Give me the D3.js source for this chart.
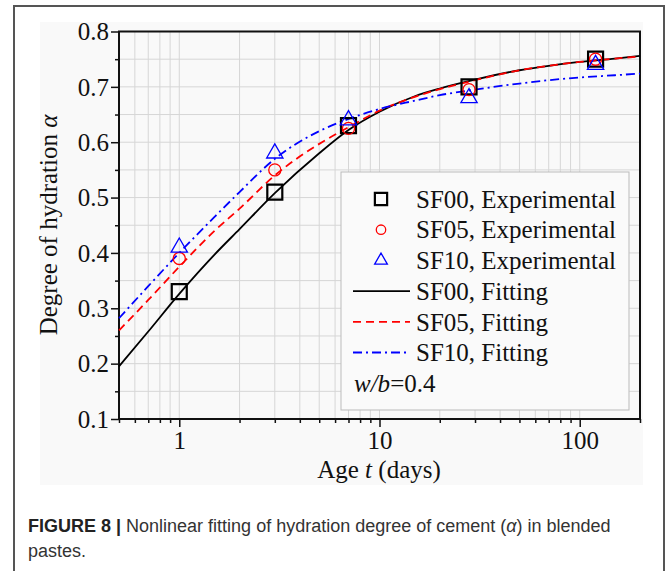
<!DOCTYPE html>
<html>
<head>
<meta charset="utf-8">
<script src="https://cdn.jsdelivr.net/npm/d3@7"></script>
<style>
  body { margin: 0; background: #fff; }
  svg text { font-family: "Liberation Serif", "Times New Roman", serif; fill: #111; }
  .caption text { font-family: "Liberation Sans Narrow", "Liberation Sans", Arial, sans-serif; fill: #333; }
</style>
</head>
<body>
<script>
// measured ages (days)
var ages = [1, 3, 7, 28, 120];
var sf00Exp = [0.33, 0.51, 0.63, 0.70, 0.75];
var sf05Exp = [0.39, 0.55, 0.625, 0.695, 0.75];
var sf10Exp = [0.41, 0.58, 0.64, 0.68, 0.74];

// fitted curves
var fitAges = [0.5, 0.7, 1, 1.5, 2, 3, 5, 7, 10, 15, 20, 30, 50, 70, 100, 150, 200];
var sf00Fit = [0.195, 0.258, 0.326, 0.397, 0.443, 0.508, 0.58, 0.622, 0.655, 0.683, 0.697, 0.713, 0.73, 0.738, 0.745, 0.751, 0.756];
var sf05Fit = [0.26, 0.315, 0.375, 0.44, 0.48, 0.54, 0.597, 0.627, 0.657, 0.682, 0.696, 0.712, 0.73, 0.738, 0.745, 0.751, 0.755];
var sf10Fit = [0.282, 0.34, 0.40, 0.465, 0.51, 0.57, 0.62, 0.642, 0.66, 0.675, 0.685, 0.695, 0.706, 0.712, 0.717, 0.721, 0.724];

var yTicks = [0.1, 0.2, 0.3, 0.4, 0.5, 0.6, 0.7, 0.8];
var xTickLabels = [1, 10, 100];

var width = 670, height = 571;
var svg = d3.select("body").append("svg")
    .attr("width", width)
    .attr("height", height);

// outer figure frame + light panel
svg.append("rect").attr("x", 14).attr("y", 6).attr("width", 650).attr("height", 600)
    .attr("fill", "#fff").attr("stroke", "#555").attr("stroke-width", 2);
svg.append("rect").attr("x", 40).attr("y", 22).attr("width", 603).attr("height", 463)
    .attr("fill", "#f9f9f9");

var x = d3.scaleLog().domain([0.5, 200]).range([119, 640]);
var y = d3.scaleLinear().domain([0.1, 0.8]).range([419, 31.5]);

var g = svg.append("g");

// minor values for grid + ticks
var xMinor = [];
[0.1, 1, 10, 100].forEach(function(d){
    for (var i = 1; i < 10; i++) {
        var v = d * i;
        if (v >= 0.5 && v <= 200) xMinor.push(v);
    }
});
var yMinor = d3.range(0.1, 0.801, 0.05);

// grid lines
g.selectAll(".vgrid").data(xMinor).enter().append("line")
    .attr("x1", function(d){ return x(d); }).attr("x2", function(d){ return x(d); })
    .attr("y1", y(0.1)).attr("y2", y(0.8))
    .attr("stroke", "#d6d6d6").attr("stroke-width", 1);
g.selectAll(".hgrid").data(yMinor).enter().append("line")
    .attr("x1", x(0.5)).attr("x2", x(200))
    .attr("y1", function(d){ return y(d); }).attr("y2", function(d){ return y(d); })
    .attr("stroke", "#d6d6d6").attr("stroke-width", 1);

// axes
var xAxis = d3.axisBottom(x)
    .tickValues(xMinor)
    .tickSize(4)
    .tickFormat(function(d){ return xTickLabels.indexOf(d) >= 0 ? d : ""; });
var xg = g.append("g").attr("transform", "translate(0," + y(0.1) + ")").call(xAxis);
xg.selectAll(".tick line").filter(function(d){ return xTickLabels.indexOf(d) >= 0; }).attr("y2", 8);

var yAxis = d3.axisLeft(y)
    .tickValues(yMinor)
    .tickSize(4)
    .tickFormat(function(d){
        var r = Math.round(d * 100) / 100;
        return (Math.round(r * 10) === r * 10) ? d3.format(".1f")(r) : "";
    });
var yg = g.append("g").attr("transform", "translate(" + x(0.5) + ",0)").call(yAxis);
yg.selectAll(".tick line").filter(function(d){ return Math.abs(d * 10 - Math.round(d * 10)) < 1e-6; }).attr("x2", -8);

[xg, yg].forEach(function(a){
    a.select(".domain").remove();
    a.selectAll(".tick line").attr("stroke", "#111").attr("stroke-width", 1.5);
    a.selectAll("text").style("font-family", "Liberation Serif").style("font-size", "25px").attr("fill", "#111");
});
xg.selectAll("text").attr("y", 9).attr("dy", "0.85em");
yg.selectAll("text").attr("x", -10).attr("dy", "0.33em");

// plot box
g.append("rect").attr("x", x(0.5)).attr("y", y(0.8))
    .attr("width", x(200) - x(0.5)).attr("height", y(0.1) - y(0.8))
    .attr("fill", "none").attr("stroke", "#111").attr("stroke-width", 2);

// fitted curves
var line = d3.line()
    .x(function(d){ return x(d[0]); })
    .y(function(d){ return y(d[1]); })
    .curve(d3.curveMonotoneX);

var fits = [
    {vals: sf00Fit, color: "#000", dash: null},
    {vals: sf05Fit, color: "#f00", dash: "8,5"},
    {vals: sf10Fit, color: "#00f", dash: "9,4,2,4"}
];
fits.forEach(function(f){
    g.append("path")
        .datum(fitAges.map(function(a, i){ return [a, f.vals[i]]; }))
        .attr("d", line)
        .attr("fill", "none")
        .attr("stroke", f.color)
        .attr("stroke-width", 1.8)
        .attr("stroke-dasharray", f.dash);
});

// experimental markers
var sym = {
    square: d3.symbol().type(d3.symbolSquare).size(225),
    circle: d3.symbol().type(d3.symbolCircle).size(115),
    triangle: d3.symbol().type(d3.symbolTriangle).size(115)
};
var exps = [
    {vals: sf00Exp, color: "#000", s: "square", w: 2.2},
    {vals: sf05Exp, color: "#f00", s: "circle", w: 1.3},
    {vals: sf10Exp, color: "#00f", s: "triangle", w: 1.3}
];
exps.forEach(function(e){
    g.selectAll(null).data(ages).enter().append("path")
        .attr("d", sym[e.s])
        .attr("transform", function(d, i){ return "translate(" + x(d) + "," + y(e.vals[i]) + ")"; })
        .attr("fill", "none")
        .attr("stroke", e.color)
        .attr("stroke-width", e.w);
});

// legend
var leg = svg.append("g");
leg.append("rect").attr("x", 341).attr("y", 172).attr("width", 288).attr("height", 238)
    .attr("fill", "#fafafa").attr("stroke", "#bbb").attr("stroke-width", 1);
var legItems = [
    {label: "SF00, Experimental", s: "square", color: "#000", w: 2.2},
    {label: "SF05, Experimental", s: "circle", color: "#f00", w: 1.3},
    {label: "SF10, Experimental", s: "triangle", color: "#00f", w: 1.3},
    {label: "SF00, Fitting", color: "#000", dash: null},
    {label: "SF05, Fitting", color: "#f00", dash: "8,5"},
    {label: "SF10, Fitting", color: "#00f", dash: "9,4,2,4"}
];
legItems.forEach(function(it, i){
    var ly = 199 + i * 30.7;
    if (it.s) {
        var sz = it.s === "square" ? 150 : 70;
        leg.append("path").attr("d", d3.symbol().type(
                it.s === "square" ? d3.symbolSquare : it.s === "circle" ? d3.symbolCircle : d3.symbolTriangle).size(sz))
            .attr("transform", "translate(381," + ly + ")")
            .attr("fill", "none").attr("stroke", it.color).attr("stroke-width", it.w);
    } else {
        leg.append("line").attr("x1", 353).attr("x2", 410).attr("y1", ly).attr("y2", ly)
            .attr("stroke", it.color).attr("stroke-width", 1.8).attr("stroke-dasharray", it.dash);
    }
    leg.append("text").attr("x", 416).attr("y", ly).attr("dy", "0.35em")
        .style("font-size", "25px").text(it.label);
});
var wb = leg.append("text").attr("x", 354).attr("y", 383).attr("dy", "0.35em").style("font-size", "25px");
wb.append("tspan").style("font-style", "italic").text("w/b");
wb.append("tspan").text("=0.4");

// axis titles
var xt = svg.append("text").attr("x", 379).attr("y", 478).attr("text-anchor", "middle").style("font-size", "25px");
xt.append("tspan").text("Age ");
xt.append("tspan").style("font-style", "italic").text("t");
xt.append("tspan").text(" (days)");

var yt = svg.append("text").attr("transform", "translate(57,225) rotate(-90)")
    .attr("text-anchor", "middle").style("font-size", "25px");
yt.append("tspan").text("Degree of hydration ");
yt.append("tspan").style("font-style", "italic").text("α");

// caption
var cap = svg.append("g").attr("class", "caption");
var c1 = cap.append("text").attr("x", 28).attr("y", 532).style("font-size", "18px");
c1.append("tspan").style("font-weight", "bold").attr("fill", "#222").text("FIGURE 8 | ");
c1.append("tspan").text("Nonlinear fitting of hydration degree of cement (");
c1.append("tspan").style("font-style", "italic").text("α");
c1.append("tspan").text(") in blended");
cap.append("text").attr("x", 28).attr("y", 557).style("font-size", "18px").text("pastes.");
</script>
</body>
</html>
